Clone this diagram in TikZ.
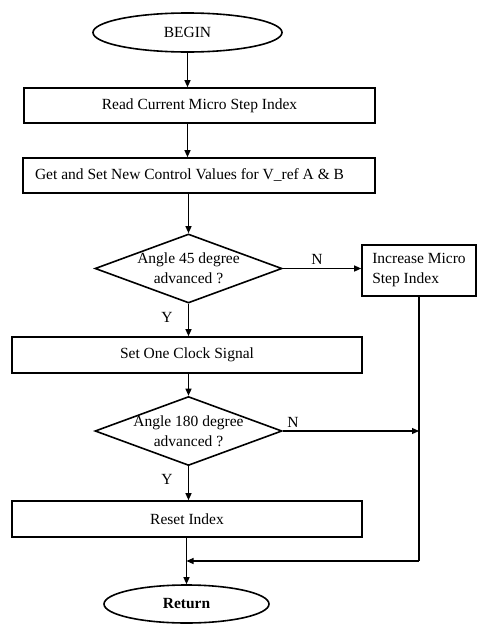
\documentclass[tikz,border=0pt]{standalone}
\usepackage{fontspec}
\setmainfont{Liberation Serif}
\usetikzlibrary{shapes.geometric,arrows.meta}
\begin{document}
\begin{tikzpicture}[x=1pt,y=-1pt,
  every node/.style={font=\fontsize{15.5}{20}\selectfont},
  box/.style={draw,line width=1.6pt,inner sep=0pt,minimum height=35pt},
  term/.style={draw,ellipse,line width=1.6pt,inner sep=0pt},
  dec/.style={draw,diamond,line width=1.6pt,inner sep=0pt,minimum width=187pt,minimum height=69pt},
  arr/.style={line width=1.1pt,-{Triangle[length=7pt,width=6pt]}},
  ln/.style={line width=1.1pt},
  lab/.style={inner sep=0pt}]
\fill[white] (0,0) rectangle (485,624);
\useasboundingbox (0,0) rectangle (485,624);

\node[term,minimum width=189pt,minimum height=39pt] (begin) at (187.5,32.5) {BEGIN};
\node[box,minimum width=351pt] (read) at (199.5,105.5) {Read Current Micro Step Index};
\node[box,minimum width=352pt] (get) at (199,175.5) {\makebox[328pt][l]{Get and Set New Control Values for V\_ref A \& B}};
\node[dec] (d1) at (188.5,268.5) {};
\node[align=center,inner sep=0pt] (d1t) at (d1) {Angle 45 degree\\advanced ?};
\node[box,align=left,minimum width=114pt,minimum height=51pt] (incr) at (419,270.5) {Increase Micro\\Step Index};
\node[box,minimum width=350pt,minimum height=36pt] (clk) at (187,355) {Set One Clock Signal};
\node[dec] (d2) at (188.5,431) {};
\node[align=center,inner sep=0pt] (d2t) at (d2) {Angle 180 degree\\advanced ?};
\node[box,minimum width=350pt,minimum height=36pt] (reset) at (187,519) {Reset Index};
\node[term,minimum width=165pt,minimum height=38pt,font=\fontsize{15.5}{20}\selectfont\bfseries] (ret) at (186.5,604) {Return};

\node[lab] (n1) at (317,259) {N};
\node[lab] (y1) at (167,317) {Y};
\node[lab] (n2) at (293,422) {N};
\node[lab] (y2) at (167,479) {Y};

\coordinate (m2) at (incr.south |- 0,561);
\coordinate (m1) at (ret.north |- m2);

\draw[arr] (begin.south) -- (begin.south |- read.north);
\draw[arr] (begin.south |- read.south) -- (begin.south |- get.north);
\draw[arr] (d1.north |- get.south) -- (d1.north);
\draw[arr] (d1.east) -- (d1.east -| incr.west);
\draw[arr] (d1.south) -- (d1.south |- clk.north);
\draw[arr] (d2.north |- clk.south) -- (d2.north);
\draw[arr] (d2.south) -- (d2.south |- reset.north);
\draw[ln] (incr.south) -- (m2);
\draw[arr] (d2.east) -- (d2.east -| incr.south);
\draw[arr] (m2) -- (m1);
\draw[arr] (ret.north |- reset.south) -- (ret.north);
\end{tikzpicture}
\end{document}
